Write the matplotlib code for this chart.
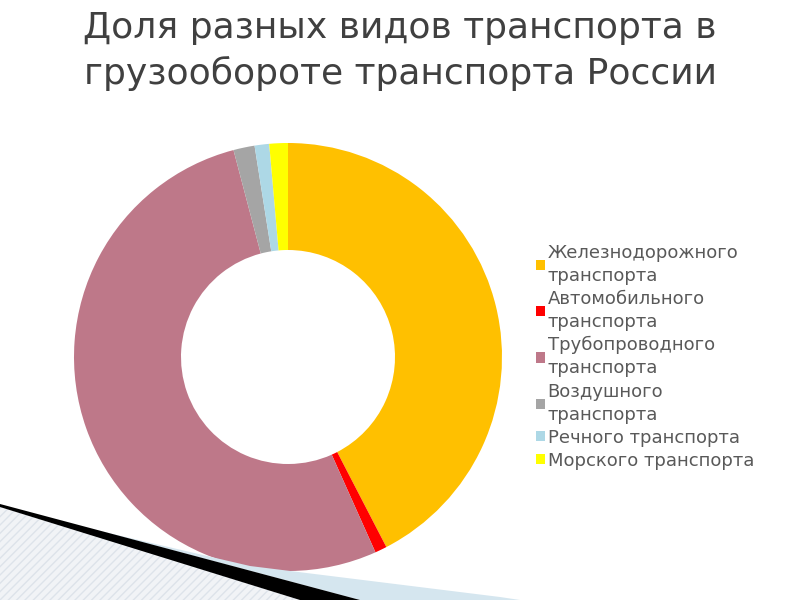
import matplotlib.pyplot as plt
from matplotlib.patches import Polygon, Rectangle

# данные (доли, %)
labels = ["Железнодорожного\nтранспорта", "Автомобильного\nтранспорта",
          "Трубопроводного\nтранспорта", "Воздушного\nтранспорта",
          "Речного транспорта", "Морского транспорта"]
shares = [42.4, 0.9, 52.6, 1.6, 1.1, 1.4]
colors = ["#FFC000", "#FF0000", "#BE7889", "#A5A5A5", "#ADD8E6", "#FFFF00"]
title_lines = ["Доля разных видов транспорта в", "грузообороте транспорта России"]

plt.rcParams['font.family'] = ['DejaVu Sans']

W, H = 800, 600
fig = plt.figure(figsize=(8, 6), dpi=100)

def px(points):
    return [(x / W, 1 - y / H) for x, y in points]

# decoration at the bottom left
fig.patches.append(Polygon(px([(0, 506), (360, 600), (0, 600)]), closed=True,
                           transform=fig.transFigure, facecolor="#F1F3F6",
                           edgecolor="#DDE3EA", hatch="////", linewidth=0, zorder=0))
fig.patches.append(Polygon(px([(100, 531), (250, 566), (500, 597), (520, 600), (360, 600)]),
                           closed=True, transform=fig.transFigure,
                           facecolor="#D5E6EF", linewidth=0, zorder=1))
fig.patches.append(Polygon(px([(0, 504), (360, 600), (300, 600), (0, 507)]), closed=True,
                           transform=fig.transFigure, facecolor="black",
                           linewidth=0, zorder=2))

for line, base in zip(title_lines, [38, 84]):
    fig.text(0.5, 1 - base / H, line, ha="center", va="baseline",
             fontsize=26, color="#404040")

cx, cy, r = 288, 357, 214
ax = fig.add_axes([(cx - r) / W, (H - cy - r) / H, 2 * r / W, 2 * r / H])
wedges, _ = ax.pie(shares, colors=colors, startangle=90, counterclock=False,
                   radius=1, wedgeprops=dict(width=0.5, linewidth=0))
ax.set_xlim(-1, 1)
ax.set_ylim(-1, 1)
ax.set_aspect("equal")
ax.axis("off")

handles = [Rectangle((0, 0), 1, 1, facecolor=c, edgecolor="none") for c in colors]
leg = fig.legend(handles, labels, loc="upper left", bbox_to_anchor=(536 / W, 1 - 244 / H),
                 frameon=False, fontsize=13, labelcolor="#595959",
                 handlelength=0.5, handleheight=0.5, handletextpad=0.15,
                 labelspacing=0.28, borderaxespad=0, borderpad=0)
for t in leg.get_texts():
    t.set_linespacing(1.36)

fig.savefig("out.png", dpi=100)
